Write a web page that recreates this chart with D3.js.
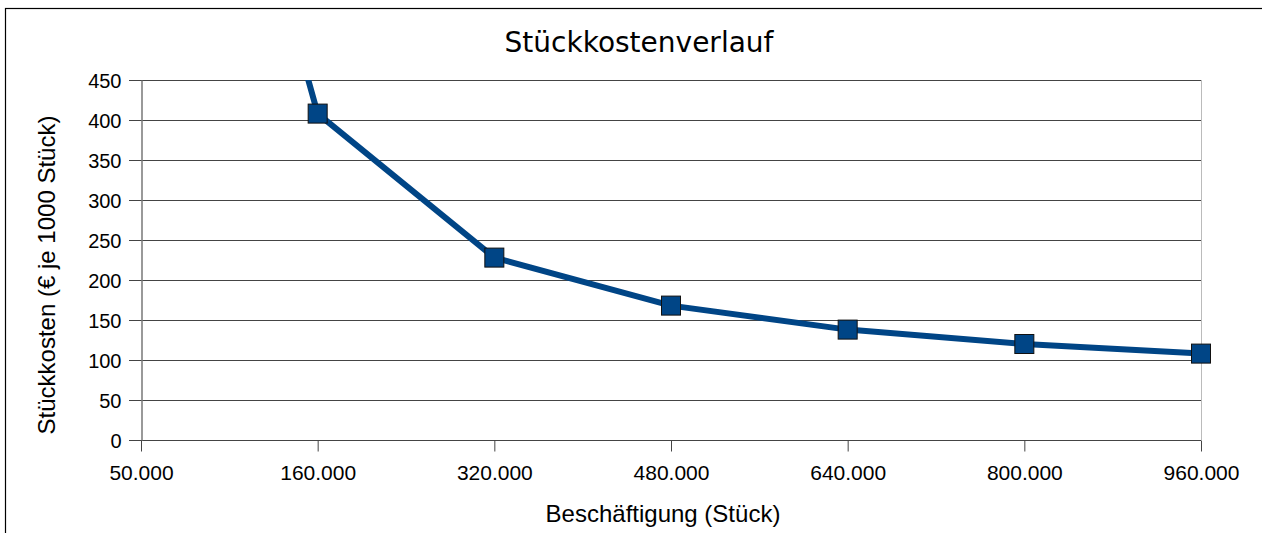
<!doctype html>
<html>
<head>
<meta charset="UTF-8">
<title>Stückkostenverlauf</title>
<script src="https://cdn.jsdelivr.net/npm/d3@7/dist/d3.min.js"></script>
<style>
    body { margin: 0; background: #fff; }
    .tick text { font-family: "Liberation Sans", Arial, sans-serif; font-size: 20px; fill: #000; }
    .xaxis .tick text { font-size: 21px; }
    .title { font-family: "DejaVu Sans", Verdana, sans-serif; font-size: 28px; }
    .axislabel { font-family: "Liberation Sans", Arial, sans-serif; font-size: 24px; }
</style>
</head>
<body>
<script>
    var categories = ["50.000", "160.000", "320.000", "480.000", "640.000", "800.000", "960.000"];
    var kosten = [1200, 408, 228, 168, 138, 120, 108];
    var yTicks = [0, 50, 100, 150, 200, 250, 300, 350, 400, 450];

    var W = 1262, H = 533;
    var margin = { left: 141, right: 61, top: 80, bottom: 93 };

    var svg = d3.select("body").append("svg")
        .attr("width", W)
        .attr("height", H);

    // outer frame
    svg.append("rect")
        .attr("x", 5.5).attr("y", 8.5)
        .attr("width", W).attr("height", H)
        .style("fill", "none")
        .style("stroke", "#000")
        .style("stroke-width", 1.2);

    var x = d3.scalePoint()
        .domain(categories)
        .range([margin.left, W - margin.right]);

    var y = d3.scaleLinear()
        .domain([0, 450])
        .range([H - margin.bottom, margin.top]);

    // grid
    svg.append("g").selectAll("line")
        .data(yTicks)
        .enter().append("line")
        .attr("x1", margin.left - 12)
        .attr("x2", W - margin.right)
        .attr("y1", function (d) { return Math.round(y(d)) + 0.5; })
        .attr("y2", function (d) { return Math.round(y(d)) + 0.5; })
        .style("stroke", "#444")
        .style("stroke-width", 1);

    // right edge of plot
    svg.append("line")
        .attr("x1", W - margin.right + 0.5).attr("x2", W - margin.right + 0.5)
        .attr("y1", margin.top).attr("y2", H - margin.bottom)
        .style("stroke", "#bbb");

    // y axis
    var yAxis = svg.append("g")
        .attr("transform", "translate(" + (margin.left + 0.5) + ",0)")
        .call(d3.axisLeft(y).tickValues(yTicks).tickSize(0).tickPadding(20));
    yAxis.select(".domain").style("stroke", "#777").style("stroke-width", 1.5);
    yAxis.selectAll(".tick text").attr("dy", "0.35em");

    // x axis
    var xAxis = svg.append("g")
        .attr("class", "xaxis")
        .attr("transform", "translate(0," + (Math.round(y(0)) + 0.5) + ")")
        .call(d3.axisBottom(x).tickSize(11).tickSizeOuter(0).tickPadding(14));
    xAxis.select(".domain").remove();
    xAxis.selectAll(".tick line").style("stroke", "#444");

    // line, clipped to plot area
    svg.append("clipPath").attr("id", "plot")
        .append("rect")
        .attr("x", margin.left).attr("y", margin.top)
        .attr("width", W - margin.left - margin.right + 20)
        .attr("height", H - margin.top - margin.bottom);

    var line = d3.line()
        .x(function (d, i) { return x(categories[i]); })
        .y(function (d) { return y(d); });

    svg.append("path")
        .datum(kosten)
        .attr("clip-path", "url(#plot)")
        .attr("d", line)
        .style("fill", "none")
        .style("stroke", "#004586")
        .style("stroke-width", 6)
        .style("stroke-linejoin", "round");

    var s = 19;
    svg.selectAll(".marker")
        .data(kosten.filter(function (d) { return d <= 450; }))
        .enter().append("rect")
        .attr("class", "marker")
        .attr("x", function (d) { return x(categories[kosten.indexOf(d)]) - s / 2; })
        .attr("y", function (d) { return y(d) - s / 2; })
        .attr("width", s).attr("height", s)
        .style("fill", "#004586")
        .style("stroke", "#111")
        .style("stroke-width", 1);

    svg.append("text")
        .attr("class", "title")
        .attr("x", 639).attr("y", 52)
        .attr("text-anchor", "middle")
        .text("Stückkostenverlauf");

    svg.append("text")
        .attr("class", "axislabel")
        .attr("x", 663).attr("y", 522)
        .attr("text-anchor", "middle")
        .text("Beschäftigung (Stück)");

    svg.append("text")
        .attr("class", "axislabel")
        .attr("transform", "translate(55," + ((margin.top + H - margin.bottom) / 2 + 15) + ") rotate(-90)")
        .attr("text-anchor", "middle")
        .text("Stückkosten (€ je 1000 Stück)");
</script>
</body>
</html>
